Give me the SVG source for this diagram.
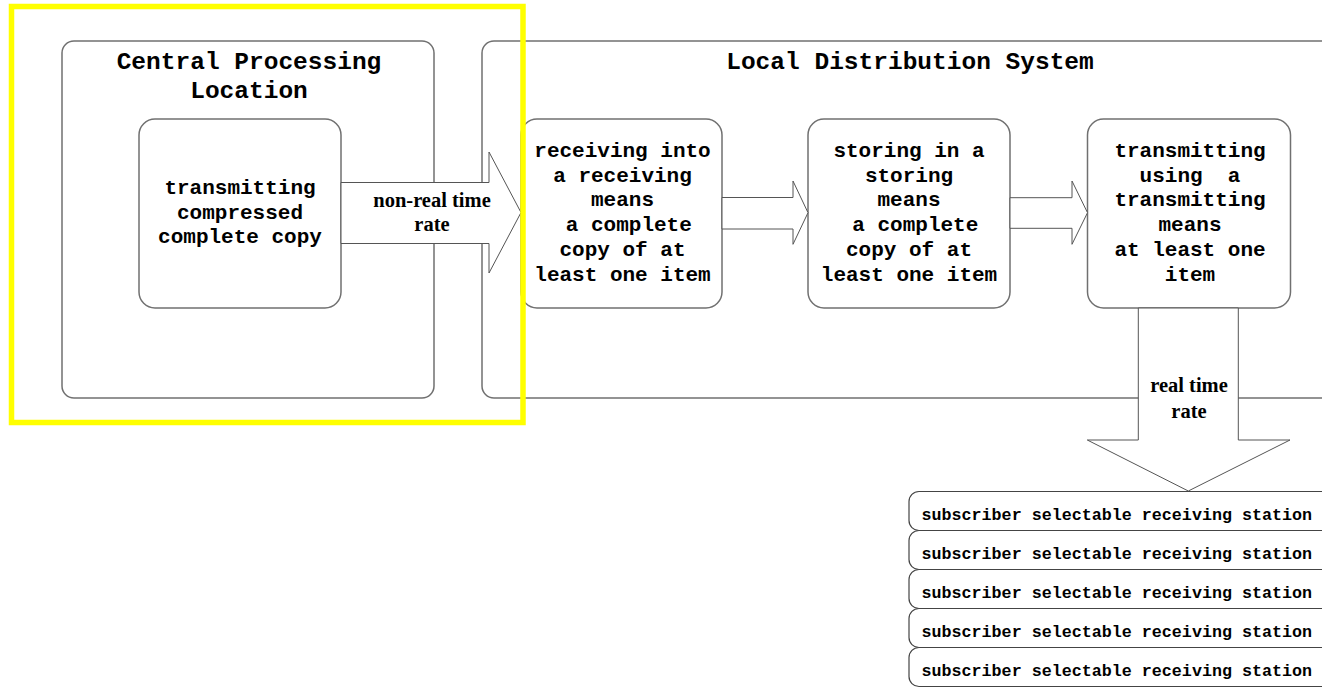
<svg xmlns="http://www.w3.org/2000/svg" width="1322" height="690" viewBox="0 0 1322 690">
<style>
.box{fill:#fff;stroke:#707070;stroke-width:1.5}
.arr{fill:#fff;stroke:#555;stroke-width:1}
.st{fill:#fff;stroke:#444;stroke-width:1.2}
.t{font-family:"Liberation Mono","Courier New",monospace;font-weight:bold;font-size:21px;fill:#000;text-anchor:middle;white-space:pre}
.title{font-family:"Liberation Mono","Courier New",monospace;font-weight:bold;font-size:24.5px;fill:#000;text-anchor:middle;white-space:pre}
.lbl{font-family:"Liberation Serif","Times New Roman",serif;font-weight:bold;font-size:20.5px;fill:#000;text-anchor:middle}
.sl{font-family:"Liberation Mono","Courier New",monospace;font-weight:bold;font-size:16.7px;fill:#000}
</style>
<rect width="1322" height="690" fill="#fff"/>
<g id="cpl">
<rect class="box" x="62" y="41" width="372" height="357" rx="12"/>
<text class="title" x="249" y="69">Central Processing</text>
<text class="title" x="249" y="98">Location</text>
</g>
<g id="lds">
<rect class="box" x="482" y="41" width="900" height="357" rx="12"/>
<text class="title" x="910" y="69">Local Distribution System</text>
</g>
<g id="n-transmit-compressed">
<rect class="box" x="139" y="119" width="202" height="189" rx="16"/>
<text class="t" x="240" y="194">transmitting</text>
<text class="t" x="240" y="218.5">compressed</text>
<text class="t" x="240" y="243">complete copy</text>
</g>
<g id="n-receiving">
<rect class="box" x="521" y="119" width="201" height="189" rx="16"/>
<text class="t" x="622.5" y="156.7">receiving into</text>
<text class="t" x="622.5" y="181.5">a receiving</text>
<text class="t" x="622.5" y="206.3">means</text>
<text class="t" x="622.5" y="231" xml:space="preserve"> a complete</text>
<text class="t" x="622.5" y="255.8">copy of at</text>
<text class="t" x="622.5" y="280.6">least one item</text>
</g>
<g id="n-storing">
<rect class="box" x="808" y="119" width="202" height="189" rx="16"/>
<text class="t" x="909" y="156.7">storing in a</text>
<text class="t" x="909" y="181.5">storing</text>
<text class="t" x="909" y="206.3">means</text>
<text class="t" x="909" y="231" xml:space="preserve"> a complete</text>
<text class="t" x="909" y="255.8">copy of at</text>
<text class="t" x="909" y="280.6">least one item</text>
</g>
<g id="n-transmitting">
<rect class="box" x="1087.5" y="119" width="203" height="189" rx="16"/>
<text class="t" x="1190" y="156.7">transmitting</text>
<text class="t" x="1190" y="181.5" xml:space="preserve">using  a</text>
<text class="t" x="1190" y="206.3">transmitting</text>
<text class="t" x="1190" y="231">means</text>
<text class="t" x="1190" y="255.8">at least one</text>
<text class="t" x="1190" y="280.6">item</text>
</g>
<g id="connectors">
<polygon class="arr" points="341,182.5 489,182.5 489,152 521,212.5 489,273 489,243.5 341,243.5"/>
<text class="lbl" x="432" y="206.7">non-real time</text>
<text class="lbl" x="432" y="230.7">rate</text>
<polygon class="arr" points="722,197.5 793,197.5 793,181 808,212.7 793,244.3 793,229 722,229"/>
<polygon class="arr" points="1010,197.7 1072,197.7 1072,181 1087.5,212.7 1072,244.3 1072,228.3 1010,228.3"/>
<polygon class="arr" points="1138.3,308 1238.3,308 1238.3,440 1290,440 1188.3,491 1087.3,440 1138.3,440"/>
<text class="lbl" x="1189" y="391.7">real time</text>
<text class="lbl" x="1189" y="418.3">rate</text>
</g>
<g id="stations">
<g id="st1"><rect class="st" x="909" y="491.5" width="470" height="39" rx="10"/><text class="sl" x="921.5" y="520">subscriber selectable receiving station</text></g>
<g id="st2"><rect class="st" x="909" y="530.5" width="470" height="39" rx="10"/><text class="sl" x="921.5" y="559">subscriber selectable receiving station</text></g>
<g id="st3"><rect class="st" x="909" y="569.5" width="470" height="39" rx="10"/><text class="sl" x="921.5" y="598">subscriber selectable receiving station</text></g>
<g id="st4"><rect class="st" x="909" y="608.5" width="470" height="39" rx="10"/><text class="sl" x="921.5" y="637">subscriber selectable receiving station</text></g>
<g id="st5"><rect class="st" x="909" y="647.5" width="470" height="39" rx="10"/><text class="sl" x="921.5" y="676">subscriber selectable receiving station</text></g>
</g>
<rect id="highlight" x="11.5" y="6.5" width="511.5" height="416" fill="none" stroke="#ffff00" stroke-width="5.5"/>
</svg>
